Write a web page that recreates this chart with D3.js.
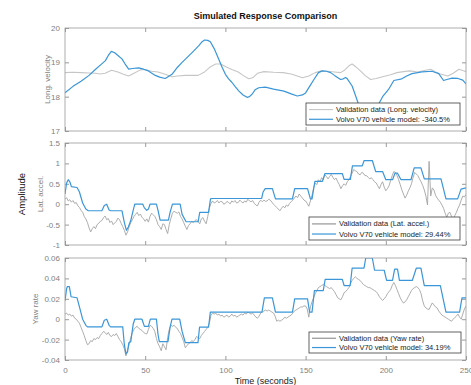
<!DOCTYPE html>
<html>
<head>
<meta charset="utf-8">
<script src="https://cdn.jsdelivr.net/npm/d3@7"></script>
<style>
  body { margin: 0; background: #fff; }
  svg { display: block; font-family: "Liberation Sans", Arial, Helvetica, sans-serif; }
</style>
</head>
<body>
<svg id="chart" width="471" height="385"></svg>
<script>
// ---- data -------------------------------------------------------------

// Longitudinal velocity: measured and simulated
const velTime = [0, 5, 10, 15, 19, 22, 25, 29, 33, 36, 39.7, 43, 47, 50, 54, 58, 62, 66.7, 70, 75, 80, 83, 87, 91, 94, 97,
  100, 104, 108, 111, 114.5, 117, 120, 124, 130, 136, 141, 144.8, 148, 152, 156, 159.4, 164, 168, 171.8, 174, 177, 179,
  181, 184, 187, 190.5, 194, 198, 203, 207, 211, 215, 220, 224, 228, 231, 234, 238.7, 242, 245.6, 248, 250];
const velData = [18.70, 18.71, 18.70, 18.69, 18.68, 18.66, 18.68, 18.77, 18.72, 18.66, 18.60, 18.68, 18.78, 18.79, 18.74,
  18.72, 18.66, 18.58, 18.60, 18.62, 18.62, 18.62, 18.72, 18.88, 18.95, 18.95, 18.88, 18.79, 18.72, 18.62, 18.52, 18.55,
  18.68, 18.73, 18.71, 18.70, 18.66, 18.60, 18.55, 18.60, 18.70, 18.75, 18.74, 18.72, 18.70, 18.76, 18.90, 18.95, 18.88,
  18.76, 18.62, 18.50, 18.53, 18.58, 18.64, 18.70, 18.73, 18.75, 18.72, 18.76, 18.80, 18.72, 18.66, 18.60, 18.68, 18.80,
  18.76, 18.73];
const velModelTime = [0, 5, 10, 15, 18.9, 22, 25.2, 27, 28.9, 31, 33, 35.5, 37.5, 39.7, 42, 45.9, 49, 52, 56.3, 59, 62.5,
  66.7, 70, 73, 77, 80, 83.3, 85.5, 87, 89, 90.6, 93, 95.8, 98, 100, 102, 104, 106, 108.3, 111, 113.5, 115, 116.6, 118.5,
  120.8, 124.9, 130, 136.5, 141, 144.8, 148, 150, 152.5, 155.2, 158, 160.4, 163, 165.6, 168, 171.8, 173.5, 174.9, 176,
  179, 181, 183, 186, 189, 192, 195.5, 198, 201.7, 205, 210, 213, 216.3, 222.5, 228.8, 233, 236, 238, 241.3, 245, 248, 250];
const velModel = [18.11, 18.30, 18.45, 18.62, 18.79, 18.92, 19.05, 19.20, 19.32, 19.28, 19.20, 19.10, 18.95, 18.80, 18.82,
  18.84, 18.80, 18.75, 18.62, 18.57, 18.53, 18.65, 18.85, 19.00, 19.18, 19.32, 19.48, 19.60, 19.65, 19.64, 19.60, 19.40,
  19.10, 18.85, 18.65, 18.52, 18.42, 18.30, 18.17, 18.05, 17.98, 18.00, 18.07, 18.20, 18.26, 18.28, 18.22, 18.16, 18.08,
  18.02, 18.05, 18.11, 18.30, 18.50, 18.70, 18.75, 18.74, 18.70, 18.62, 18.50, 18.52, 18.56, 18.52, 18.31, 18.05, 17.78,
  17.55, 17.42, 17.45, 17.78, 18.00, 18.21, 18.47, 18.52, 18.60, 18.67, 18.72, 18.74, 18.67, 18.47, 18.50, 18.54, 18.53,
  18.48, 18.37];

// Lateral acceleration, measured at 1 s intervals
const sampleTime = 1;
const latData = [
  0.12, 0.16, 0.08, 0.11, 0.05, 0.09, 0.02, 0.04, -0.04, -0.08,
  -0.15, -0.2, -0.3, -0.36, -0.45, -0.58, -0.68, -0.6, -0.55, -0.6,
  -0.5, -0.47, -0.42, -0.4, -0.33, -0.29, -0.38, -0.35, -0.45, -0.41,
  -0.5, -0.46, -0.42, -0.34, -0.38, -0.47, -0.55, -0.64, -0.76, -0.68,
  -0.55, -0.45, -0.38, -0.3, -0.25, -0.2, -0.28, -0.24, -0.32, -0.36,
  -0.42, -0.36, -0.44, -0.3, -0.22, -0.26, -0.3, -0.38, -0.5, -0.55,
  -0.62, -0.48, -0.5, -0.62, -0.72, -0.5, -0.35, -0.22, -0.17, -0.2,
  -0.22, -0.19, -0.3, -0.36, -0.45, -0.54, -0.62, -0.52, -0.48, -0.42,
  -0.45, -0.4, -0.38, -0.43, -0.48, -0.36, -0.33, -0.42, -0.48, -0.3,
  -0.1, 0.02, 0.08, 0.03, 0.05, 0.09, 0.03, 0.07, 0.06, 0.0,
  0.02, 0.07, 0.04, 0.01, 0.08, 0.05, 0.09, 0.03, 0.04, 0.1,
  0.06, 0.03, 0.08, 0.05, 0.12, 0.08, 0.06, 0.09, 0.02, -0.02,
  -0.04, 0.05, 0.1, 0.06, 0.1, 0.07, 0.08, 0.12, 0.1, 0.05,
  0.0, -0.04, -0.08, -0.12, -0.16, -0.1, -0.05, -0.09, -0.02, -0.05,
  0.02, 0.06, 0.1, 0.15, 0.2, 0.16, 0.25, 0.2, 0.15, 0.1,
  0.08, 0.02, -0.05, 0.08, 0.22, 0.4, 0.52, 0.48, 0.6, 0.55,
  0.65, 0.6, 0.72, 0.68, 0.62, 0.68, 0.73, 0.66, 0.6, 0.64,
  0.55, 0.48, 0.38, 0.45, 0.5, 0.46, 0.55, 0.6, 0.68, 0.76,
  0.85, 0.82, 0.8, 0.74, 0.72, 0.78, 0.76, 0.7, 0.7, 0.66,
  0.62, 0.65, 0.6, 0.55, 0.52, 0.45, 0.38, 0.48, 0.55, 0.42,
  0.33, 0.38, 0.45, 0.58, 0.7, 0.8, 0.78, 0.7, 0.6, 0.48,
  0.35, 0.25, 0.15, 0.22, 0.32, 0.4, 0.5, 0.65, 0.78, 0.74,
  0.7, 0.62, 0.55, 0.46, 0.35, 0.2, -0.02, 1.05, 0.2, 0.4,
  0.35, 0.22, 0.15, 0.1, 0.05, -0.02, -0.1, -0.22, -0.32, -0.22,
  -0.2, -0.3, -0.38, -0.28, -0.2, -0.1, -0.02, 0.1, 0.2, 0.18,
  0.24];
const latModelTime = [0, 1, 2, 3, 4, 7.5, 9, 11, 13, 14.5, 23, 24.5, 26, 27.5, 28.5, 35.5, 37, 38.3, 39.5, 41, 42.5, 43.5,
  48.5, 49.5, 51, 52, 53, 57, 58, 59.3, 64.5, 65.5, 67, 71.8, 73, 75.5, 83, 84, 89.5, 90.7, 91.5, 122.6, 123.5, 124.8,
  129.3, 131.2, 141.8, 143.2, 151.2, 153, 154, 155.8, 160.5, 162, 172.9, 174, 177.9, 179.2, 185.3, 186.5, 191.6, 193.7,
  198, 200, 204.2, 205.7, 207.3, 209.5, 215.7, 217.7, 221.9, 224, 234.4, 237.5, 244.8, 246.9, 250];
const latModel = [0.25, 0.52, 0.6, 0.55, 0.43, 0.41, 0.3, 0.03, -0.12, -0.16, -0.16, -0.03, 0.0, -0.14, -0.16, -0.16,
  -0.45, -0.64, -0.56, -0.4, -0.15, 0.0, 0.0, -0.09, -0.15, -0.12, 0.0, 0.0, -0.15, -0.39, -0.39, -0.2, 0.0, 0.0, -0.25,
  -0.43, -0.43, -0.2, -0.2, 0.13, 0.14, 0.14, 0.3, 0.38, 0.38, 0.13, 0.13, 0.38, 0.38, 0.13, 0.13, 0.56, 0.56, 0.75,
  0.75, 0.61, 0.61, 0.94, 0.94, 1.07, 1.07, 0.8, 0.8, 0.6, 0.6, 0.76, 0.76, 0.6, 0.6, 0.89, 0.89, 0.62, 0.62, 0.13,
  0.13, 0.37, 0.4];

// Yaw rate, measured at 1 s intervals
const yawData = [
  0.005, 0.006, 0.004, 0.005, 0.003, 0.004, 0.001, 0.0, -0.002, -0.004,
  -0.008, -0.012, -0.016, -0.021, -0.025, -0.024, -0.021, -0.022, -0.019, -0.02,
  -0.018, -0.019, -0.016, -0.014, -0.012, -0.013, -0.015, -0.013, -0.016, -0.017,
  -0.015, -0.016, -0.014, -0.017, -0.02, -0.022, -0.025, -0.029, -0.036, -0.03,
  -0.025, -0.018, -0.013, -0.01, -0.008, -0.007, -0.009, -0.01, -0.011, -0.013,
  -0.014, -0.0145, -0.01, -0.006, -0.007, -0.009, -0.012, -0.019, -0.024, -0.027,
  -0.031, -0.024, -0.027, -0.03, -0.018, -0.01, -0.006, -0.007, -0.006, -0.008,
  -0.009, -0.012, -0.014, -0.018, -0.022, -0.028, -0.026, -0.024, -0.023, -0.021,
  -0.022, -0.02, -0.017, -0.018, -0.019, -0.016, -0.014, -0.012, -0.01, -0.008,
  -0.004, 0.004, 0.006, 0.005, 0.006, 0.004, 0.005, 0.003, 0.004, 0.002,
  0.003, 0.004, 0.002, 0.003, 0.005, 0.003, 0.004, 0.002, 0.003, 0.004,
  0.005, 0.004, 0.006, 0.005, 0.007, 0.006, 0.005, 0.006, 0.004, 0.002,
  0.001, 0.003, 0.006, 0.007, 0.008, 0.009, 0.008, 0.009, 0.008, 0.007,
  0.006, 0.003, -0.002, -0.001, -0.002, -0.001, 0.0, 0.002, 0.001, 0.002,
  0.003, 0.004, 0.006, 0.008, 0.009, 0.01, 0.011, 0.012, 0.012, 0.013,
  0.013, 0.01, 0.002, 0.012, 0.017, 0.021, 0.025, 0.028, 0.031, 0.032,
  0.033, 0.034, 0.033, 0.032, 0.031, 0.03, 0.031, 0.029, 0.027, 0.024,
  0.021, 0.02, 0.019, 0.022, 0.026, 0.027, 0.029, 0.031, 0.035, 0.038,
  0.04, 0.0415, 0.04, 0.039, 0.038, 0.036, 0.034, 0.033, 0.032, 0.031,
  0.031, 0.03, 0.029, 0.028, 0.027, 0.025, 0.022, 0.02, 0.0185, 0.02,
  0.022, 0.025, 0.027, 0.029, 0.033, 0.036, 0.033, 0.029, 0.025, 0.021,
  0.018, 0.0158, 0.017, 0.019, 0.022, 0.025, 0.028, 0.03, 0.031, 0.032,
  0.031, 0.029, 0.025, 0.018, 0.013, 0.011, 0.01, 0.0095, 0.013, 0.016,
  0.014, 0.012, 0.011, 0.008, 0.006, 0.004, 0.003, 0.002, 0.001, 0.0,
  -0.001, -0.002, 0.0, 0.0016, 0.003, 0.005, 0.002, 0.0, 0.005, 0.01,
  0.013];
const yawModelTime = [0, 1, 1.5, 2.7, 3.8, 7.5, 9, 11, 13, 14, 23, 24.5, 26, 27.5, 28.5, 36, 37, 38, 39, 39.8, 41, 42.5,
  43.5, 48, 49.5, 52, 53.2, 57, 58, 58.8, 64.2, 65.5, 66.7, 71.5, 73, 75, 82.9, 83.9, 89.5, 90.6, 122.8, 124.3, 129.3,
  131.2, 141.8, 143.2, 151.2, 152.5, 154, 155.5, 161, 162.2, 172.9, 174, 177.8, 179, 186.4, 187.5, 191.6, 193, 199,
  200.5, 204.2, 205.5, 207.3, 208.5, 216.5, 219, 221.9, 224, 234, 237.5, 246, 247.5, 250];
const yawModel = [0.018, 0.03, 0.032, 0.032, 0.022, 0.021, 0.012, 0.0, -0.006, -0.0075, -0.0075, -0.001, 0.0, -0.006,
  -0.0075, -0.0075, -0.025, -0.034, -0.032, -0.023, -0.022, -0.005, 0.0, 0.0, -0.007, -0.007, 0.0, 0.0, -0.015, -0.022,
  -0.022, -0.008, 0.0, 0.0, -0.012, -0.023, -0.023, -0.0077, -0.0077, 0.007, 0.007, 0.021, 0.021, 0.007, 0.007, 0.02,
  0.02, 0.007, 0.007, 0.028, 0.028, 0.039, 0.039, 0.033, 0.033, 0.05, 0.05, 0.06, 0.06, 0.048, 0.048, 0.038, 0.038,
  0.049, 0.049, 0.038, 0.038, 0.05, 0.05, 0.033, 0.033, 0.007, 0.007, 0.021, 0.021];

// Axis ticks and labels
const timeTicks = [0, 50, 100, 150, 200, 250];
const velTicks = [17, 18, 19, 20];
const latTicks = [-1, -0.5, 0, 0.5, 1, 1.5];
const yawTicks = [-0.04, -0.02, 0, 0.02, 0.04, 0.06];
const channelNames = ["Long. velocity", "Lat. accel.", "Yaw rate"];
const validationLabels = ["Validation data (Long. velocity)", "Validation data (Lat. accel.)", "Validation data (Yaw rate)"];
const modelLabels = ["Volvo V70 vehicle model: -340.5%", "Volvo V70 vehicle model: 29.44%", "Volvo V70 vehicle model: 34.19%"];

// ---- layout -----------------------------------------------------------
const svg = d3.select("#chart");
const plotLeft = 65, plotRight = 466;
const rows = [[28, 131], [143, 245], [258, 360]];
const blue = "#3a96d8";
const axisGray = "#9a9a9a";
const labelGray = "#7f7f7f";

const x = d3.scaleLinear().domain([0, 250]).range([plotLeft, plotRight]);
const fmt = d => String(+d.toFixed(2));

const sampled = vals => vals.map((v, i) => ({ t: i * sampleTime, v }));
const paired = (ts, vs) => ts.map((t, i) => ({ t, v: vs[i] }));

const panels = [
  { domain: [17, 20], ticks: velTicks, meas: paired(velTime, velData), model: paired(velModelTime, velModel),
    measColor: "#c6c6c6", measWidth: 1.1, labelX: 47, legend: { x0: 306, x1: 460, y0: 103, y1: 125 } },
  { domain: [-1, 1.5], ticks: latTicks, meas: sampled(latData), model: paired(latModelTime, latModel),
    measColor: "#a4a4a4", measWidth: 0.9, labelX: 40, legend: { x0: 309, x1: 460, y0: 217, y1: 240 } },
  { domain: [-0.04, 0.06], ticks: yawTicks, meas: sampled(yawData), model: paired(yawModelTime, yawModel),
    measColor: "#a4a4a4", measWidth: 0.9, labelX: 35, legend: { x0: 309, x1: 461, y0: 332, y1: 353 } }
];

panels.forEach((p, k) => {
  const [top, bottom] = rows[k];
  const y = d3.scaleLinear().domain(p.domain).range([bottom, top]);
  const g = svg.append("g");

  const clipId = "clip" + k;
  svg.append("clipPath").attr("id", clipId)
    .append("rect").attr("x", plotLeft).attr("y", top)
    .attr("width", plotRight - plotLeft).attr("height", bottom - top);

  // inward ticks on all four sides
  const styleAxis = sel => {
    sel.select(".domain").remove();
    sel.selectAll(".tick line").attr("stroke", axisGray);
    sel.selectAll(".tick text").attr("fill", labelGray).style("font-size", "8px");
  };
  g.append("g").attr("transform", `translate(${plotLeft},0)`)
    .call(d3.axisLeft(y).tickValues(p.ticks).tickSize(-4).tickPadding(5).tickFormat(fmt))
    .call(styleAxis);
  g.append("g").attr("transform", `translate(${plotRight},0)`)
    .call(d3.axisRight(y).tickValues(p.ticks).tickSize(-4).tickFormat(""))
    .call(styleAxis);
  g.append("g").attr("transform", `translate(0,${top})`)
    .call(d3.axisTop(x).tickValues(timeTicks).tickSize(-4).tickFormat(""))
    .call(styleAxis);
  g.append("g").attr("transform", `translate(0,${bottom})`)
    .call(d3.axisBottom(x).tickValues(timeTicks).tickSize(-4).tickPadding(7)
      .tickFormat(k === 2 ? fmt : ""))
    .call(styleAxis);

  const line = d3.line().x(d => x(d.t)).y(d => y(d.v));
  const traces = g.append("g").attr("clip-path", `url(#${clipId})`);
  traces.append("path").datum(p.meas).attr("d", line)
    .attr("fill", "none").attr("stroke", p.measColor).attr("stroke-width", p.measWidth)
    .attr("stroke-linejoin", "round");
  traces.append("path").datum(p.model).attr("d", line)
    .attr("fill", "none").attr("stroke", blue).attr("stroke-width", 1.2)
    .attr("stroke-linejoin", "round");

  // plot box
  g.append("rect").attr("x", plotLeft).attr("y", top)
    .attr("width", plotRight - plotLeft).attr("height", bottom - top)
    .attr("fill", "none").attr("stroke", axisGray).attr("stroke-width", 0.8);

  // channel name
  g.append("text")
    .attr("transform", `translate(${p.labelX},${(top + bottom) / 2}) rotate(-90)`)
    .attr("text-anchor", "middle").attr("dominant-baseline", "central")
    .attr("fill", labelGray).style("font-size", "8px")
    .text(channelNames[k]);

  // legend
  const L = p.legend;
  const lg = g.append("g");
  lg.append("rect").attr("x", L.x0).attr("y", L.y0)
    .attr("width", L.x1 - L.x0).attr("height", L.y1 - L.y0)
    .attr("fill", "#fff").attr("stroke", "#3c3c3c").attr("stroke-width", 0.8);
  const rowY = [L.y0 + (L.y1 - L.y0) * 0.3, L.y0 + (L.y1 - L.y0) * 0.74];
  const entries = [
    { label: validationLabels[k], color: p.measColor, w: k === 0 ? 1.1 : 1.4 },
    { label: modelLabels[k], color: blue, w: 1.2 }
  ];
  entries.forEach((e, i) => {
    lg.append("line").attr("x1", L.x0 + 3).attr("x2", L.x0 + 27)
      .attr("y1", rowY[i]).attr("y2", rowY[i])
      .attr("stroke", e.color).attr("stroke-width", e.w);
    lg.append("text").attr("x", L.x0 + 30).attr("y", rowY[i])
      .attr("dominant-baseline", "central")
      .attr("fill", "#222").style("font-size", "7.5px")
      .text(e.label);
  });
});

// titles
svg.append("text").attr("x", (plotLeft + plotRight) / 2).attr("y", 19)
  .attr("text-anchor", "middle").attr("fill", "#111")
  .style("font-size", "9px").style("font-weight", "bold")
  .text("Simulated Response Comparison");
svg.append("text").attr("x", (plotLeft + plotRight) / 2).attr("y", 384)
  .attr("text-anchor", "middle").attr("fill", "#222").style("font-size", "9px")
  .text("Time (seconds)");
svg.append("text")
  .attr("transform", `translate(21,${(rows[0][0] + rows[2][1]) / 2}) rotate(-90)`)
  .attr("text-anchor", "middle").attr("dominant-baseline", "central")
  .attr("fill", "#111").style("font-size", "9.5px")
  .text("Amplitude");
</script>
</body>
</html>
